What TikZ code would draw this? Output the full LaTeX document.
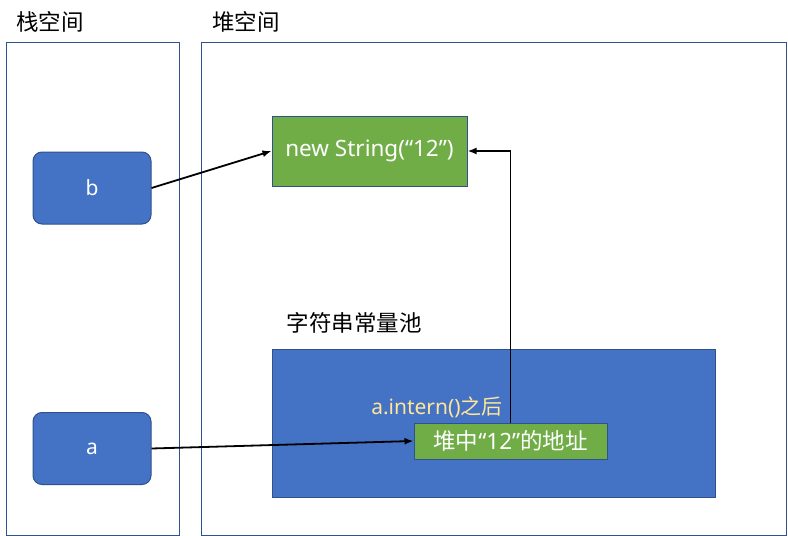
\documentclass[tikz,border=0pt]{standalone}
\usepackage{fontspec}
\setmainfont{Noto Sans}
\newfontfamily\cjk{Noto Sans CJK SC}
\usetikzlibrary{arrows.meta}

\definecolor{boxblue}{HTML}{4472C4}
\definecolor{edgeblue}{HTML}{2F528F}
\definecolor{boxgreen}{HTML}{70AD47}
\definecolor{textyellow}{HTML}{FFE699}

\begin{document}
\begin{tikzpicture}[x=1pt, y=-1pt,
    frame/.style={draw=edgeblue, line width=1pt},
    var/.style={rectangle, rounded corners=9pt, draw=edgeblue, line width=1pt, fill=boxblue, text=white,
      minimum width=118pt, minimum height=72pt, font=\fontsize{21}{24}\selectfont},
    obj/.style={rectangle, draw=edgeblue, line width=1pt, fill=boxgreen, text=white, font=\fontsize{22.5}{26}\selectfont},
    title/.style={font=\fontsize{22.5}{26}\selectfont\cjk},
    ref/.style={-{Latex[length=9pt, width=7pt]}, line width=1.8pt}]
  \useasboundingbox (0,0) rectangle (788,536);
  \fill[white] (0,0) rectangle (788,536);
  % the two spaces
  \draw[frame] (6,42) rectangle (179,535);
  \draw[frame] (201,42) rectangle (786,535);
  \node[title] (stacklbl) at (50,22) {栈空间};
  \node[title] (heaplbl) at (246,22) {堆空间};
  % constant pool
  \node[title] (poollbl) at (354,323) {字符串常量池};
  \node[rectangle, draw=edgeblue, line width=1pt, fill=boxblue, minimum width=443pt, minimum height=148pt] (pool) at (493.5,423) {};
  \node[text=textyellow, font=\fontsize{21}{24}\selectfont] (intern) at (437,407) {a.intern(){\cjk 之后}};
  % objects
  \node[obj, minimum width=195pt, minimum height=70pt] (str) at (369.5,151) {\raisebox{-2pt}{new String(“12”)}};
  \node[obj, minimum width=193pt, minimum height=36pt] (addr) at (510.5,441) {\raisebox{-1pt}{{\cjk 堆中}“12”{\cjk 的地址}}};
  % variables on the stack
  \node[var] (b) at (92,188) {b};
  \node[var] (a) at (92,448.5) {a};
  % references
  \draw[ref] (b.east) -- (str.west);
  \draw[ref] (a.east) -- (addr.west);
  \draw[ref] (addr.north) |- (str.east);
\end{tikzpicture}
\end{document}
